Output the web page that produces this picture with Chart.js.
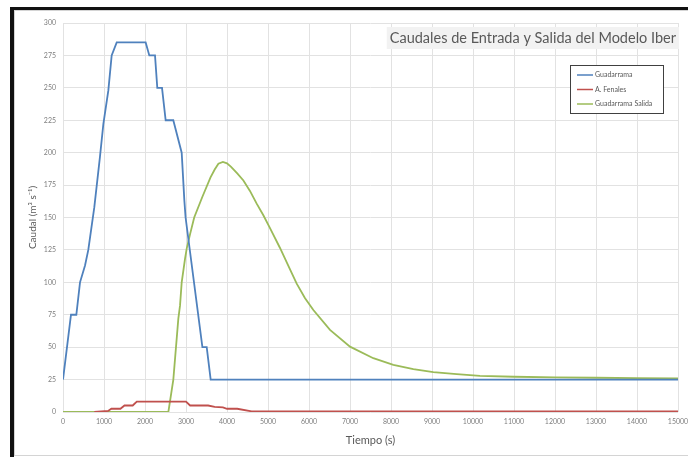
<!DOCTYPE html>
<html>
<head>
<meta charset="utf-8">
<script src="https://cdn.jsdelivr.net/npm/chart.js@4/dist/chart.umd.min.js"></script>
<style>
html,body{margin:0;padding:0;background:#fff;}
#wrap{position:relative;width:688px;height:457px;}
</style>
</head>
<body>
<div id="wrap"><canvas id="c" width="688" height="457"></canvas></div>
<script>
// ---- Data ----
const chartTitle = "Caudales de Entrada y Salida del Modelo Iber";
const seriesNames = ["Guadarrama", "A. Fenales", "Guadarrama Salida"];

const guadarramaT = [0, 195, 325, 415, 537, 617, 764, 902, 984, 1106, 1187, 1310, 2016, 2105, 2244, 2300, 2415, 2504, 2690, 2895, 2960, 2990, 3400, 3505, 3602, 15000];
const guadarramaQ = [25, 75, 75, 100, 113, 125, 158, 197, 222, 248, 275, 285, 285, 275, 275, 250, 250, 225, 225, 200, 163, 150, 50, 50, 25, 25];

const fenalesT = [763, 1100, 1180, 1400, 1500, 1700, 1800, 3000, 3100, 3540, 3700, 3900, 4000, 4250, 4600, 15000];
const fenalesQ = [0, 0.8, 2.5, 2.5, 5, 5, 8, 8, 5, 5, 4, 3.5, 2.5, 2.5, 0.5, 0.5];

const salidaT = [0, 2570, 2691, 2813, 2854, 2895, 2976, 3017, 3098, 3200, 3400, 3598, 3700, 3790, 3900, 4000, 4100, 4250, 4400, 4560, 4724, 4890, 5049, 5293, 5500, 5700, 5900, 6106, 6512, 7000, 7569, 8057, 8545, 9032, 9602, 10171, 11000, 12000, 13000, 14000, 15000];
const salidaQ = [0, 0, 25, 72, 82, 100, 118, 126, 137, 150, 166, 181, 187, 191.5, 192.8, 191.8, 189, 184, 178.6, 170.5, 160.7, 151.5, 141.8, 126.5, 112.5, 99, 88, 78.7, 63.3, 50.4, 41.5, 36.4, 33, 30.8, 29.2, 27.9, 27.2, 26.7, 26.4, 26.2, 26];

const xTickStep = 1000, xMin = 0, xMax = 15000;
const yTickStep = 25, yMin = 0, yMax = 300;

const colors = ["#4f81bd", "#c0504d", "#9bbb59"];

function pts(t, q){ return t.map((x,i)=>({x:x, y:q[i]})); }

// ---- Plugins ----
const framePlugin = {
  id: 'frame',
  beforeDraw(chart){
    const ctx = chart.ctx;
    ctx.save();
    ctx.fillStyle = '#ffffff';
    ctx.fillRect(0,0,chart.width,chart.height);
    ctx.restore();
  },
  afterDraw(chart){
    const ctx = chart.ctx;
    ctx.save();
    ctx.fillStyle = '#111111';
    ctx.fillRect(10,7,4,450);
    ctx.fillRect(10,7,678,3);
    ctx.strokeStyle = '#d4d4d4';
    ctx.lineWidth = 1;
    ctx.beginPath();
    ctx.moveTo(14,455.5); ctx.lineTo(688,455.5);
    ctx.moveTo(14.5,10); ctx.lineTo(14.5,455);
    ctx.moveTo(14,10.5); ctx.lineTo(688,10.5);
    ctx.stroke();
    ctx.restore();
  }
};

const titleBoxPlugin = {
  id: 'titleBox',
  afterDatasetsDraw(chart){
    const ctx = chart.ctx;
    ctx.save();
    ctx.font = '14.5px Lato, "Open Sans", sans-serif';
    const w = ctx.measureText(chartTitle).width;
    const right = 678, x = right - w - 2, top = 27, h = 22;
    ctx.fillStyle = '#f2f2f2';
    ctx.fillRect(x - 3, top, w + 6, h);
    ctx.fillStyle = '#595959';
    ctx.textBaseline = 'middle';
    ctx.textAlign = 'left';
    ctx.fillText(chartTitle, x, top + h/2 + 0.5);
    ctx.restore();
  }
};

const legendBoxPlugin = {
  id: 'legendBox',
  afterDatasetsDraw(chart){
    const ctx = chart.ctx;
    ctx.save();
    const bx = 570.5, by = 65.5, bw = 93, bh = 48;
    ctx.fillStyle = '#ffffff';
    ctx.fillRect(bx, by, bw, bh);
    ctx.strokeStyle = '#404040';
    ctx.lineWidth = 1;
    ctx.strokeRect(bx, by, bw, bh);
    ctx.font = '7px Lato, "Open Sans", sans-serif';
    ctx.textBaseline = 'middle';
    ctx.textAlign = 'left';
    const rows = [75, 89.5, 104];
    chart.data.datasets.forEach((ds,i)=>{
      const y = rows[i];
      ctx.strokeStyle = ds.borderColor;
      ctx.lineWidth = 1.5;
      ctx.beginPath();
      ctx.moveTo(577, y); ctx.lineTo(593, y);
      ctx.stroke();
      ctx.fillStyle = '#595959';
      ctx.fillText(ds.label, 595, y);
    });
    ctx.restore();
  }
};

const tickFont = {family: 'Lato, "Open Sans", sans-serif', size: 7};

new Chart(document.getElementById('c'), {
  type: 'line',
  data: {
    datasets: [
      {label: seriesNames[0], data: pts(guadarramaT, guadarramaQ), borderColor: colors[0], backgroundColor: colors[0], borderWidth: 1.8, pointRadius: 0, tension: 0, fill: false},
      {label: seriesNames[1], data: pts(fenalesT, fenalesQ), borderColor: colors[1], backgroundColor: colors[1], borderWidth: 1.8, pointRadius: 0, tension: 0, fill: false},
      {label: seriesNames[2], data: pts(salidaT, salidaQ), borderColor: colors[2], backgroundColor: colors[2], borderWidth: 1.8, pointRadius: 0, tension: 0, fill: false}
    ]
  },
  options: {
    responsive: false,
    animation: false,
    devicePixelRatio: 1,
    layout: {padding: {top: 23, right: 10, left: 0, bottom: 0}},
    plugins: {legend: {display: false}, title: {display: false}, tooltip: {enabled: false}},
    scales: {
      x: {
        type: 'linear', min: xMin, max: xMax,
        ticks: {stepSize: xTickStep, font: tickFont, color: '#7f7f7f', padding: 6, maxRotation: 0, autoSkip: false,
                callback: (v) => String(v)},
        grid: {color: '#e2e2e2', drawTicks: false, lineWidth: 1},
        border: {display: false},
        title: {display: true, text: 'Tiempo (s)', font: {family: 'Lato, "Open Sans", sans-serif', size: 11}, color: '#595959', padding: {top: 0, bottom: 10}},
        afterFit(s){ s.height = 45; s.paddingRight = 0; s.paddingLeft = 0; }
      },
      y: {
        min: yMin, max: yMax,
        ticks: {stepSize: yTickStep, font: tickFont, color: '#7f7f7f', padding: 7},
        grid: {color: '#e2e2e2', drawTicks: false, lineWidth: 1},
        border: {display: false},
        title: {display: true, text: 'Caudal (m³ s⁻¹)', font: {family: 'Lato, "Open Sans", sans-serif', size: 10}, color: '#595959', padding: {top: 27, bottom: 0}},
        afterFit(s){ s.width = 63; s.paddingTop = 0; s.paddingBottom = 0; }
      }
    }
  },
  plugins: [framePlugin, titleBoxPlugin, legendBoxPlugin]
});
</script>
</body>
</html>
